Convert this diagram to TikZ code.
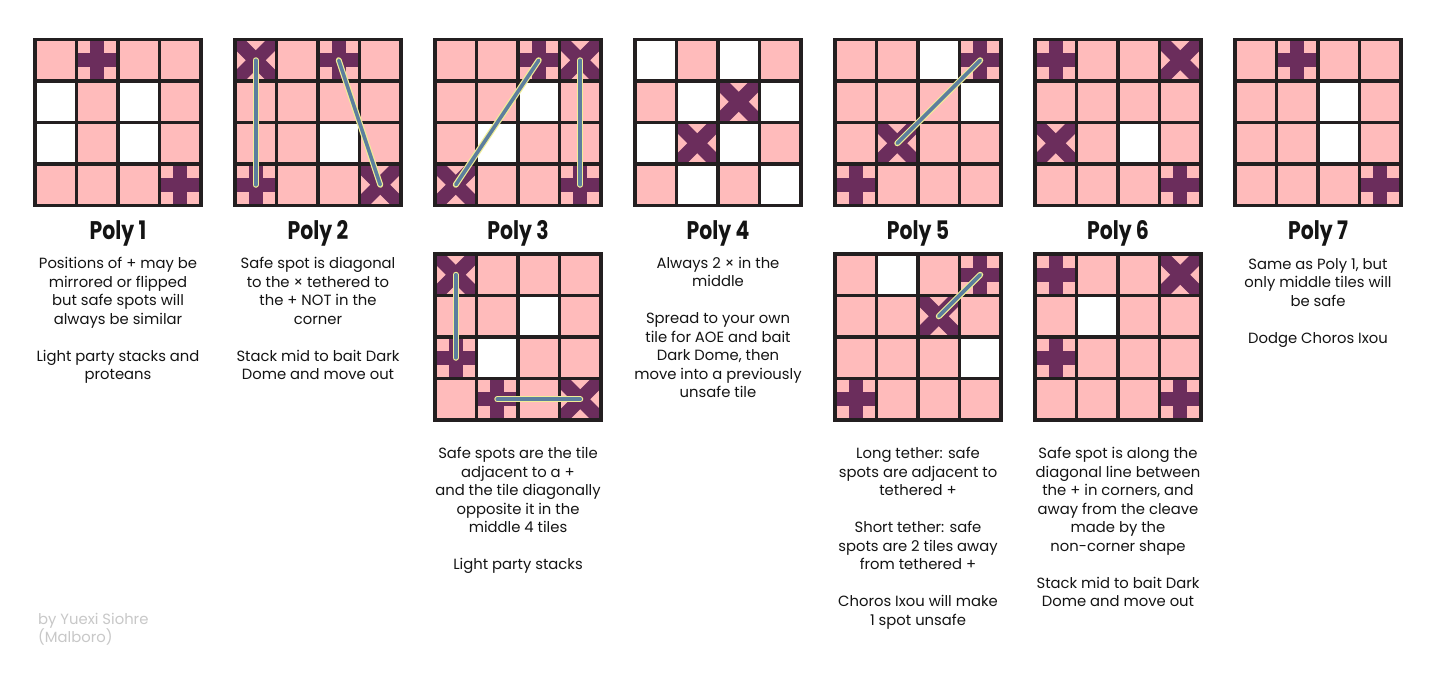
\documentclass[tikz,border=0pt]{standalone}
\usepackage{fontspec}
\setmainfont{Poppins}
\newfontfamily\titlefont{Poppins}[FakeStretch=0.8]
\definecolor{tilepink}{RGB}{255,187,187}
\definecolor{markpurple}{RGB}{107,45,92}
\definecolor{gridblack}{RGB}{35,31,32}
\definecolor{tetherblue}{RGB}{92,126,158}
\definecolor{tetheryellow}{RGB}{240,238,150}
\definecolor{textblack}{RGB}{20,20,20}
\definecolor{creditgrey}{RGB}{200,200,200}
%% cell size and arm width
\def\cellsz{41.5}
\def\armw{14}
%% one 4x4 board: name, x, y, white tiles, + tiles, x tiles
\newcommand\polygrid[6]{%
  \begin{scope}[shift={(#2,#3)}]
    \fill[tilepink] (0,0) rectangle (4*\cellsz,4*\cellsz);
    \foreach \rr/\cc in {#4} \fill[white] (\cc*\cellsz,\rr*\cellsz) rectangle ++(\cellsz,\cellsz);
    \foreach \rr/\cc in {#5} {
      \fill[markpurple] ({(\cc+.5)*\cellsz-\armw/2},\rr*\cellsz) rectangle ++(\armw,\cellsz);
      \fill[markpurple] (\cc*\cellsz,{(\rr+.5)*\cellsz-\armw/2}) rectangle ++(\cellsz,\armw);
    }
    \foreach \rr/\cc in {#6} {
      \begin{scope}
        \clip (\cc*\cellsz,\rr*\cellsz) rectangle ++(\cellsz,\cellsz);
        \draw[crossarm] (\cc*\cellsz-5,\rr*\cellsz-5) -- ++(\cellsz+10,\cellsz+10);
        \draw[crossarm] (\cc*\cellsz-5,\rr*\cellsz+\cellsz+5) -- ++(\cellsz+10,-\cellsz-10);
      \end{scope}
    }
    \foreach \i in {1,2,3} {
      \draw[gridline] (\i*\cellsz,0) -- (\i*\cellsz,4*\cellsz);
      \draw[gridline] (0,\i*\cellsz) -- (4*\cellsz,\i*\cellsz);
    }
    \draw[gridline] (0,0) rectangle (4*\cellsz,4*\cellsz);
    \foreach \rr in {0,...,3} \foreach \cc in {0,...,3}
      \coordinate (#1-\rr-\cc) at ({(\cc+.5)*\cellsz},{(\rr+.5)*\cellsz});
  \end{scope}
}
\tikzset{
  gridline/.style={draw=gridblack, line width=3.2pt},
  crossarm/.style={draw=markpurple, line width=\armw pt},
  tether/.style={draw=tetheryellow, line width=1.2pt, double=tetherblue, double distance=3.6pt, line cap=round},
  title/.style={font=\titlefont\bfseries\fontsize{25.5}{28}\selectfont, text=textblack, anchor=base, inner sep=0pt},
  body/.style={font=\fontsize{14.8}{18.5}\selectfont, text=textblack, align=center, anchor=north, inner sep=0pt},
  credit/.style={font=\fontsize{14.8}{18.5}\selectfont, text=creditgrey, align=left, anchor=north west, inner sep=0pt}
}
\begin{document}
\begin{tikzpicture}[x=1pt, y=-1pt, line join=miter]
  \fill[white] (0,0) rectangle (1436,673);
  \useasboundingbox (0,0) rectangle (1436,673);
  %% Boards, top row
  \polygrid{pa}{35}{39.5}{1/0,1/2,2/0,2/2}{0/1,3/3}{}
  \polygrid{pb}{235}{39.5}{2/2}{0/2,3/0}{0/0,3/3}
  \polygrid{pc}{435}{39.5}{1/2,2/1}{0/2,3/3}{0/3,3/0}
  \polygrid{pd}{635}{39.5}{0/0,0/2,1/1,1/3,2/0,2/2,3/1,3/3}{}{1/2,2/1}
  \polygrid{pe}{835}{39.5}{0/2,1/3}{0/3,3/0}{2/1}
  \polygrid{pf}{1035}{39.5}{2/2}{0/0,3/3}{0/3,2/0}
  \polygrid{pg}{1235}{39.5}{1/2,2/2}{0/1,3/3}{}
  %% Boards, bottom row
  \polygrid{qc}{435}{254}{1/2,2/1}{2/0,3/1}{0/0,3/3}
  \polygrid{qe}{835}{254}{0/1,2/3}{0/3,3/0}{1/2}
  \polygrid{qf}{1035}{254}{1/1}{0/0,2/0,3/3}{0/3}
  %% Tethers
  \draw[tether] (pb-0-0) -- (pb-3-0);
  \draw[tether] (pb-0-2) -- (pb-3-3);
  \draw[tether] (pc-0-2) -- (pc-3-0);
  \draw[tether] (pc-0-3) -- (pc-3-3);
  \draw[tether] (pe-0-3) -- (pe-2-1);
  \draw[tether] (qc-0-0) -- (qc-2-0);
  \draw[tether] (qc-3-1) -- (qc-3-3);
  \draw[tether] (qe-0-3) -- (qe-1-2);
  %% Titles
  \foreach \k in {1,...,7}
    \node[title] (title\k) at ({118+200*(\k-1)},239) {Poly \k};
  %% Notes
  \node[body] (notea) at (118,257) {Positions of + may be\\mirrored or flipped\\but safe spots will\\always be similar\\[18.5pt]Light party stacks and\\proteans};
  \node[body] (noteb) at (318,257) {Safe spot is diagonal\\to the × tethered to\\the + NOT in the\\corner\\[18.5pt]Stack mid to bait Dark\\Dome and move out};
  \node[body] (notec) at (518,447) {Safe spots are the tile\\adjacent to a +\\and the tile diagonally\\opposite it in the\\middle 4 tiles\\[18.5pt]Light party stacks};
  \node[body] (noted) at (718,257) {Always 2 × in the\\middle\\[18.5pt]Spread to your own\\tile for AOE and bait\\Dark Dome, then\\move into a previously\\unsafe tile};
  \node[body] (notee) at (918,447) {Long tether: safe\\spots are adjacent to\\tethered +\\[18.5pt]Short tether: safe\\spots are 2 tiles away\\from tethered +\\[18.5pt]Choros Ixou will make\\1 spot unsafe};
  \node[body] (notef) at (1118,447) {Safe spot is along the\\diagonal line between\\the + in corners, and\\away from the cleave\\made by the\\non-corner shape\\[18.5pt]Stack mid to bait Dark\\Dome and move out};
  \node[body] (noteg) at (1318,258) {Same as Poly 1, but\\only middle tiles will\\be safe\\[18.5pt]Dodge Choros Ixou};
  %% Credit
  \node[credit] (byline) at (38,613) {by Yuexi Siohre\\(Malboro)};
\end{tikzpicture}
\end{document}
